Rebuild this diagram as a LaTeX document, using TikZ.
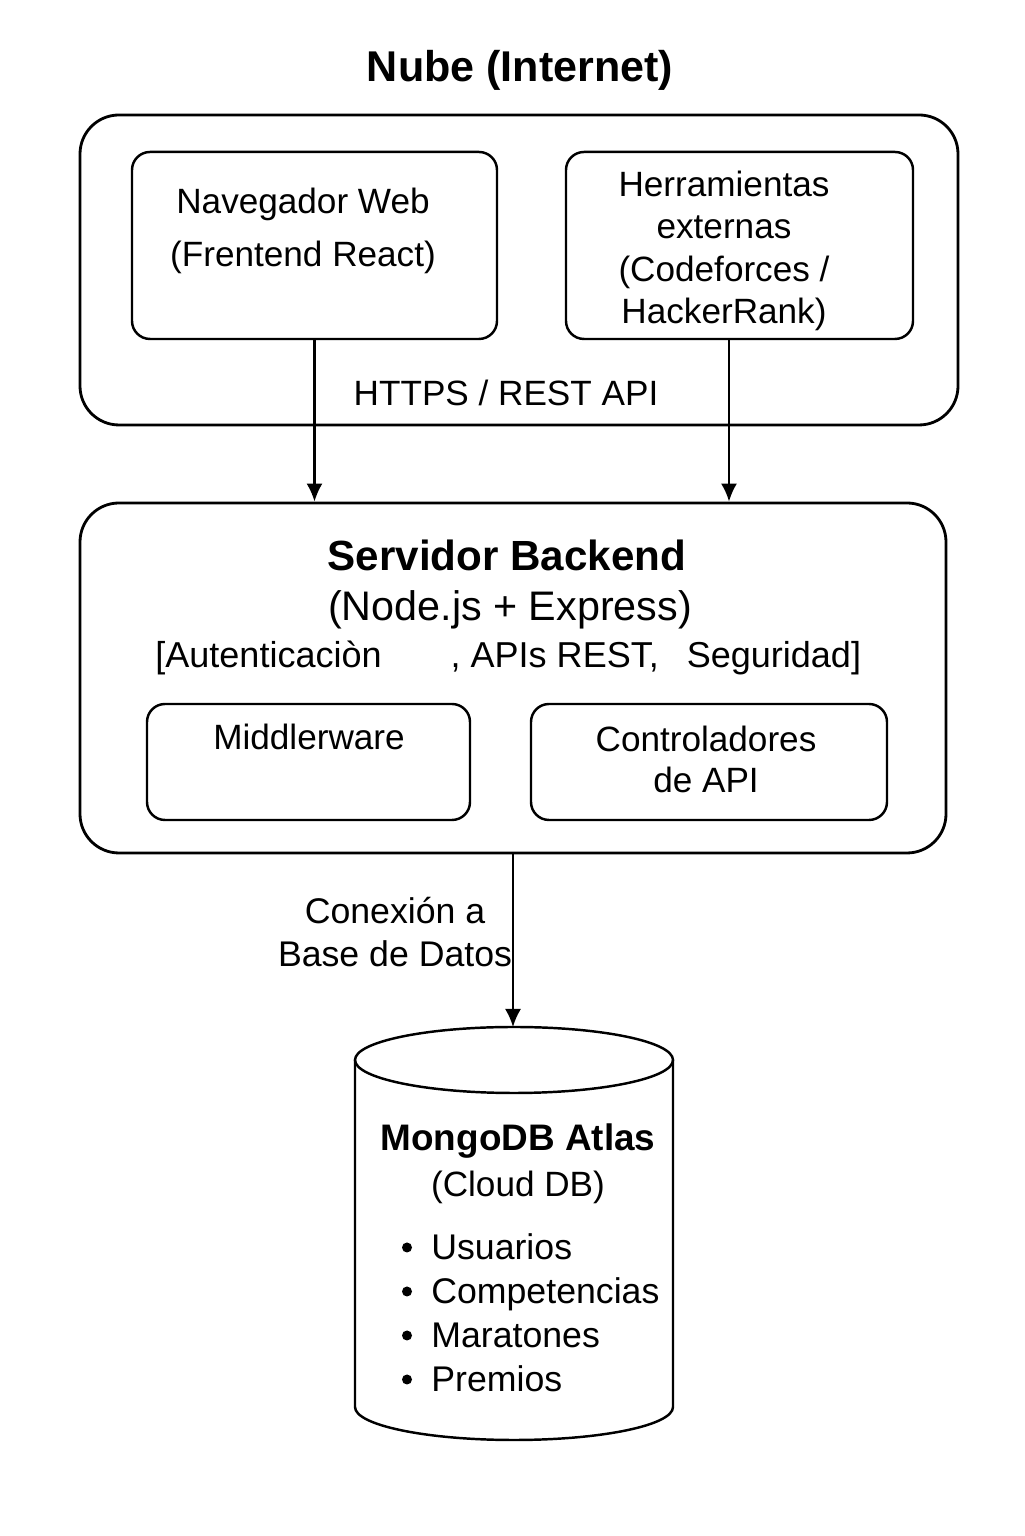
\documentclass[tikz,border=0pt]{standalone}
\usepackage{fontspec}
\setmainfont{Liberation Sans}
\usepackage{tikz}
\usetikzlibrary{arrows.meta}
\usetikzlibrary{calc}
\usetikzlibrary{positioning}

\begin{document}
\begin{tikzpicture}
	[
	> = {Latex[length=3.6mm,width=3.2mm]},
	grupo/.style = {draw,line width=1.6pt,rounded corners=0.78cm},
	caja/.style = {draw,line width=1.4pt,rounded corners=0.36cm},
	txt/.style = {align=center,inner sep=0pt,font=\fontsize{20}{24}\selectfont},
	titulo/.style = {align=center,inner sep=0pt,font=\fontsize{24.5}{29}\selectfont\bfseries},
	flecha/.style = {->,line width=1.2pt},
	dot/.style = {fill,circle,inner sep=0pt,minimum size=0.2cm}
	]
	\useasboundingbox[fill=white] (0,0) rectangle (20.48,30.72);

	% nube
	\node[titulo] (nubetit) at (10.4,29.32) {Nube (Internet)};
	\node[grupo, minimum width=17.56cm, minimum height=6.2cm] (nube) at (10.38,25.32) {};
	\node[caja, minimum width=7.3cm, minimum height=3.74cm] (nav) at (6.29,25.81) {};
	\node[caja, minimum width=6.94cm, minimum height=3.74cm] (herr) at (14.79,25.81) {};
	\node[txt, font=\fontsize{20}{30.5}\selectfont] (navtxt) at (6.06,26.1) {Navegador Web\\(Frentend React)};
	\node[txt] (herrtxt) at (14.48,25.7) {Herramientas\\externas\\(Codeforces /\\HackerRank)};
	\node[txt] (https) at (10.12,22.86) {HTTPS / REST API};

	% backend
	\node[grupo, minimum width=17.32cm, minimum height=7cm] (backend) at (10.26,17.16) {};
	\node[titulo, font=\fontsize{24}{29}\selectfont\bfseries] (backtit) at (10.14,19.62) {Servidor Backend};
	\node[txt, font=\fontsize{23.5}{29}\selectfont] (backsub) at (10.2,18.53) {(Node.js + Express)};
	\node[txt, anchor=west, font=\fontsize{20.5}{24}\selectfont] (backlist) at (3.1,17.56) {[Autenticaciòn\hspace{1.38cm}, APIs REST,\hspace{0.56cm}Seguridad]};
	\node[caja, minimum width=6.46cm, minimum height=2.32cm] (mid) at (6.17,15.48) {};
	\node[caja, minimum width=7.12cm, minimum height=2.32cm] (ctrl) at (14.18,15.48) {};
	\node[txt] (midtxt) at (6.18,15.98) {Middlerware};
	\node[txt, font=\fontsize{20}{23.3}\selectfont] (ctrltxt) at (14.12,15.53) {Controladores\\de API};

	\draw[flecha] (nav.south) -- (nav.south |- backend.north);
	\draw[flecha] ([xshift=-0.21cm]herr.south) -- ([xshift=-0.21cm]herr.south |- backend.north);

	% base de datos
	\coordinate (dbtop) at (10.26,10.18);
	\draw[line width=1.4pt] (7.1,9.52) -- (7.1,2.58) arc[start angle=180,end angle=360,x radius=3.18cm,y radius=0.66cm] -- (13.46,9.52);
	\draw[line width=1.4pt] (10.28,9.52) ellipse [x radius=3.18cm, y radius=0.66cm];
	\draw[flecha] (backend.south) -- (dbtop);
	\node[txt, font=\fontsize{20.3}{24}\selectfont] (conex) at (7.9,12.08) {Conexión a\\Base de Datos};

	\node[titulo, font=\fontsize{21}{24}\selectfont\bfseries] (dbtit) at (10.36,7.9) {MongoDB Atlas};
	\node[txt] (dbsub) at (10.36,6.98) {(Cloud DB)};
	\foreach \col [count=\i] in {Usuarios,Competencias,Maratones,Premios}
	{
		\node[txt, anchor=base west, font=\fontsize{20.3}{24}\selectfont] (col\i) at (8.62,6.4-0.88*\i) {\col};
		\node[dot] (bul\i) at (8.14,6.65-0.88*\i) {};
	}
\end{tikzpicture}
\end{document}
